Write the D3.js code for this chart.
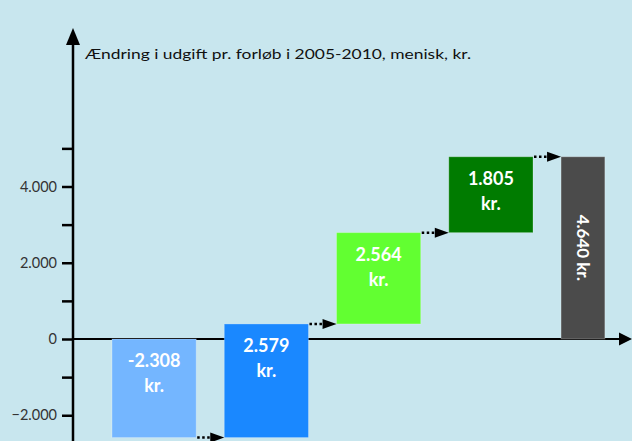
<!DOCTYPE html>
<html>
<head>
<meta charset="utf-8">
<script src="https://cdn.jsdelivr.net/npm/d3@7"></script>
<style>
  html, body { margin: 0; padding: 0; background: #c8e6ee; }
  svg { display: block; }
</style>
</head>
<body>
<svg id="chart" width="632" height="441"></svg>
<script>
(function () {
  'use strict';

  // ─── Data ─────────────────────────────────────────
  const steps = ['trin1', 'trin2', 'trin3', 'trin4'];
  const totalKey = 'total';
  // bar extents as drawn against the axis (kr.)
  const barFrom = [0, -2585, 395, 2790, 0];
  const barTo = [-2585, 395, 2790, 4780, 4780];
  const barLabels = [['-2.308', 'kr.'], ['2.579', 'kr.'], ['2.564', 'kr.'], ['1.805', 'kr.'], ['4.640 kr.']];
  const barColors = ['#74b6ff', '#1a88ff', '#62ff31', '#007b00', '#4b4b4b'];
  const tickValues = [-3000, -2000, -1000, 0, 1000, 2000, 3000, 4000, 5000];
  const labelledTicks = [-2000, 0, 2000, 4000];
  const axisTitle = 'Ændring i udgift pr. forløb i 2005-2010, menisk, kr.';

  const W = 632, H = 441;
  const FONT = 'Lato, "Open Sans", sans-serif';
  const svg = d3.select('#chart');

  const locale = d3.formatLocale({ decimal: ',', thousands: '.', grouping: [3], currency: ['', ' kr.'] });
  const fmt = locale.format(',d');

  // ─── Scales ───────────────────────────────────────
  const axisX = 73;
  const y = d3.scaleLinear().domain([0, 4000]).range([339, 186.5]);
  const x = d3.scaleBand().domain(steps).range([112, 533]).paddingInner(0.25).paddingOuter(0);

  // ─── Y axis (ticks + labels) ──────────────────────
  const axis = d3.axisLeft(y)
    .tickValues(tickValues)
    .tickSize(11)
    .tickPadding(5)
    .tickFormat(function (d) { return labelledTicks.indexOf(d) >= 0 ? fmt(d) : ''; });

  const gy = svg.append('g')
    .attr('transform', `translate(${axisX},0)`)
    .call(axis);
  gy.select('.domain').remove();
  gy.selectAll('.tick line').attr('stroke', '#000').attr('stroke-width', 2.5);
  gy.selectAll('.tick text')
    .attr('fill', '#333')
    .style('font-family', FONT)
    .style('font-size', '14.5px');

  // ─── Bars ─────────────────────────────────────────
  const bw = x.bandwidth();
  const gap = x.step() - bw;
  const bars = steps.concat([totalKey]).map(function (s, i) {
    const isTotal = s === totalKey;
    const x0 = isTotal ? x(steps[steps.length - 1]) + bw + gap : x(s);
    const w = isTotal ? bw * 0.52 : bw;
    return {
      x0: x0, x1: x0 + w, cx: x0 + w / 2,
      top: y(Math.max(barFrom[i], barTo[i])),
      bottom: y(Math.min(barFrom[i], barTo[i])),
      end: y(barTo[i]),
      color: barColors[i], label: barLabels[i], total: isTotal
    };
  });

  // zero line with arrow
  svg.append('line')
    .attr('x1', axisX).attr('x2', W - 10)
    .attr('y1', y(0)).attr('y2', y(0))
    .attr('stroke', '#000').attr('stroke-width', 2);
  svg.append('path')
    .attr('d', `M${W},${y(0)} L${W - 13},${y(0) - 6.5} L${W - 13},${y(0) + 6.5} Z`)
    .attr('fill', '#000');

  svg.selectAll('rect.bar')
    .data(bars)
    .join('rect')
    .attr('class', 'bar')
    .attr('x', d => d.x0)
    .attr('y', d => d.top)
    .attr('width', d => d.x1 - d.x0)
    .attr('height', d => d.bottom - d.top)
    .attr('fill', d => d.color)
    .attr('stroke', 'rgba(255,255,255,0.25)')
    .attr('stroke-width', 1);

  // ─── Connectors (dotted arrow) ────────────────────
  for (let i = 0; i < bars.length - 1; i++) {
    const a = bars[i], b = bars[i + 1];
    const yy = a.end;
    const tipX = b.x0;
    const headW = 14;
    svg.append('line')
      .attr('x1', a.x1 + 1).attr('x2', tipX - headW)
      .attr('y1', yy).attr('y2', yy)
      .attr('stroke', '#000')
      .attr('stroke-width', 2.5)
      .attr('stroke-dasharray', '2.5,2.5');
    svg.append('path')
      .attr('d', `M${tipX},${yy} L${tipX - headW},${yy - 5} L${tipX - headW},${yy + 5} Z`)
      .attr('fill', '#000');
  }

  // ─── Bar labels ───────────────────────────────────
  bars.forEach(function (d) {
    if (d.total) {
      svg.append('text')
        .attr('transform', `translate(${d.cx},${(d.top + d.bottom) / 2}) rotate(90)`)
        .attr('text-anchor', 'middle')
        .attr('dy', '0.35em')
        .attr('fill', '#fff')
        .style('font-family', FONT)
        .style('font-size', '17px')
        .style('font-weight', 'bold')
        .text(d.label[0]);
      return;
    }
    const t = svg.append('text')
      .attr('x', d.cx)
      .attr('y', d.top + 28)
      .attr('text-anchor', 'middle')
      .attr('fill', '#fff')
      .style('font-family', FONT)
      .style('font-size', '18px')
      .style('font-weight', 'bold');
    d.label.forEach(function (line, j) {
      t.append('tspan').attr('x', d.cx).attr('dy', j === 0 ? 0 : 25).text(line);
    });
  });

  // ─── Vertical axis with arrow ─────────────────────
  svg.append('line')
    .attr('x1', axisX).attr('x2', axisX)
    .attr('y1', H + 5).attr('y2', 40)
    .attr('stroke', '#000').attr('stroke-width', 2.5);
  svg.append('path')
    .attr('d', `M${axisX},28 L${axisX - 7},45 L${axisX + 7},45 Z`)
    .attr('fill', '#000');

  svg.append('text')
    .attr('x', 85)
    .attr('y', 59)
    .attr('fill', '#111')
    .attr('textLength', 386)
    .attr('lengthAdjust', 'spacingAndGlyphs')
    .style('font-family', FONT)
    .style('font-size', '14px')
    .text(axisTitle);
})();
</script>
</body>
</html>
